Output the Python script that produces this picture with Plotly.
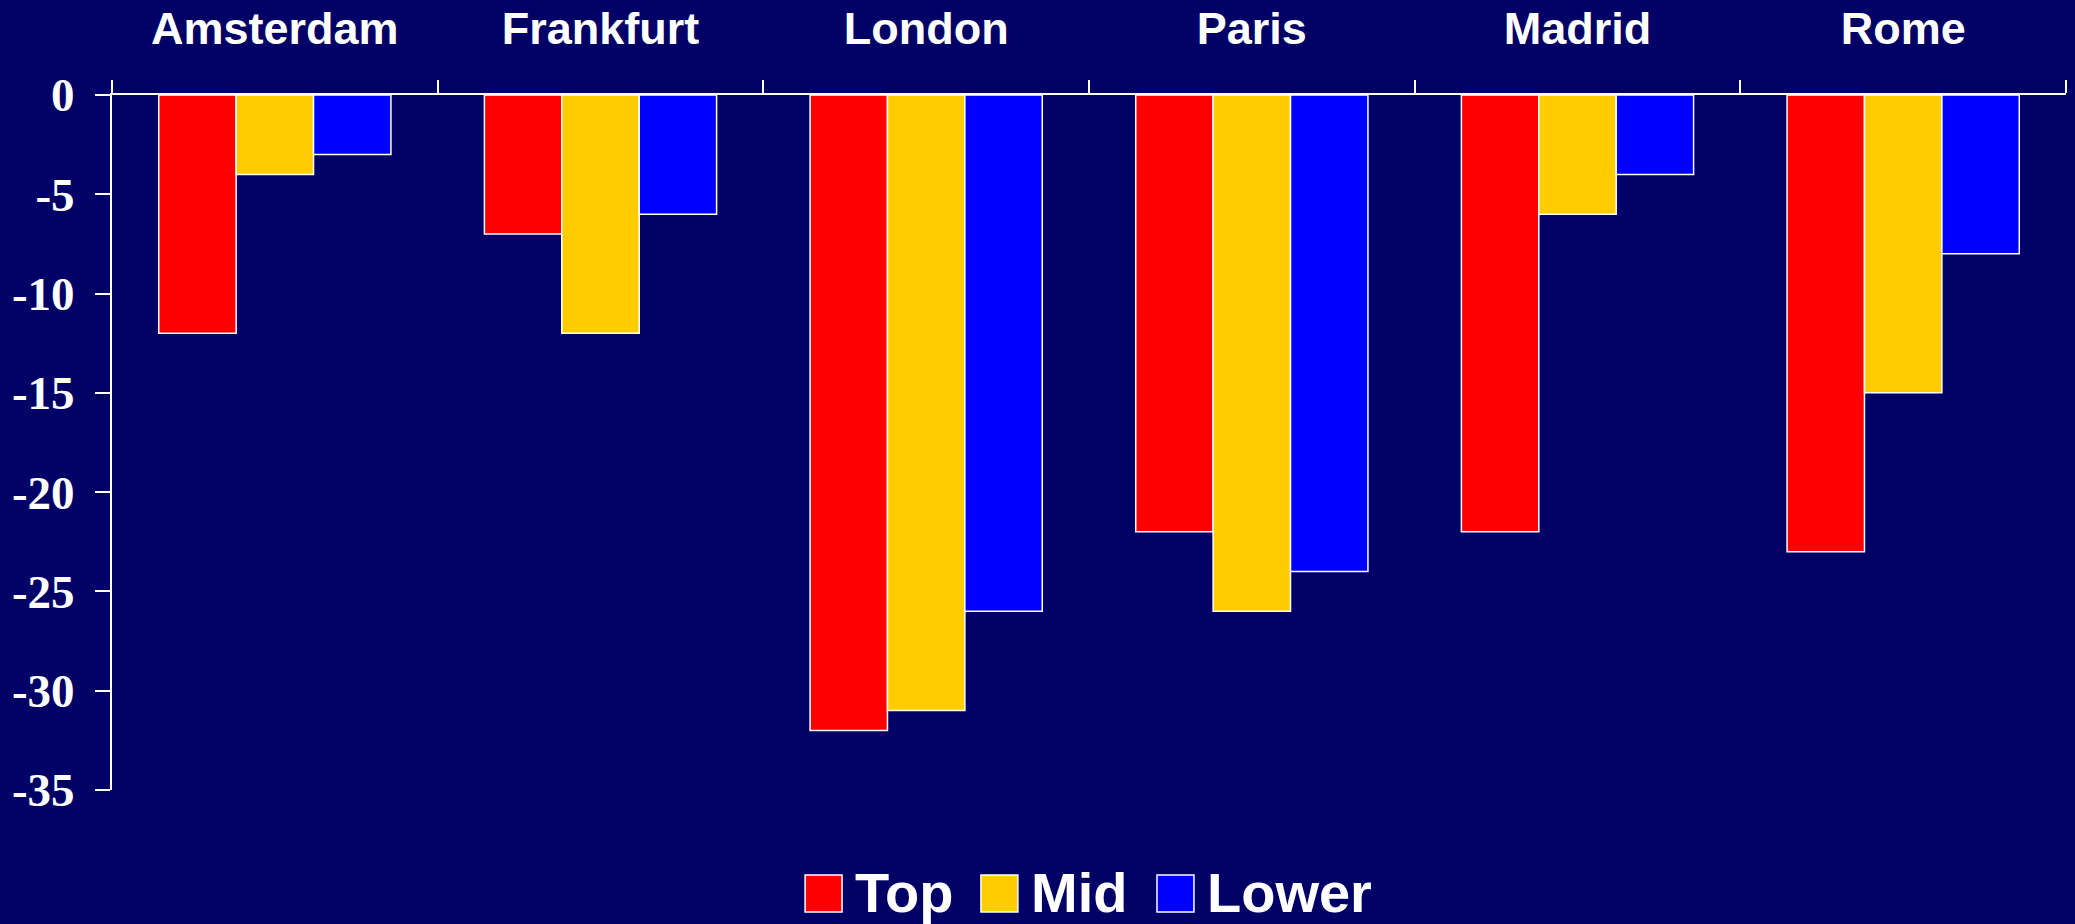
import plotly.graph_objects as go

# Chart data
cities = ["Amsterdam", "Frankfurt", "London", "Paris", "Madrid", "Rome"]
series_names = ["Top", "Mid", "Lower"]
top_values = [-12, -7, -32, -22, -22, -23]
mid_values = [-4, -12, -31, -26, -6, -15]
lower_values = [-3, -6, -26, -24, -4, -8]
y_tick_values = [0, -5, -10, -15, -20, -25, -30, -35]
y_tick_text = ["0", "-5", "-10", "-15", "-20", "-25", "-30", "-35"]

colors = ["#FF0000", "#FFCC00", "#0000FF"]
navy = "#000066"

fig = go.Figure()
for name, vals, col in zip(series_names, [top_values, mid_values, lower_values], colors):
    fig.add_trace(go.Bar(
        x=cities, y=vals, name=name,
        marker=dict(color=col, line=dict(color="white", width=1.5)),
        showlegend=False,
    ))

# Custom legend along the bottom: swatch + label
swatch_left = [0.3547, 0.4447, 0.5348]
swatch_w = 0.0189
for name, col, lx in zip(series_names, colors, swatch_left):
    fig.add_shape(type="rect", xref="paper", yref="paper",
                  x0=lx, x1=lx + swatch_w, y0=-0.1223, y1=-0.1755,
                  fillcolor=col, line=dict(color="white", width=1.5))
    fig.add_annotation(xref="paper", yref="paper", x=lx + 0.0245, y=-0.148,
                       text=name, showarrow=False, xanchor="left", yanchor="middle",
                       font=dict(family="Liberation Sans", size=56, color="white", weight="bold"))

fig.update_layout(
    width=2075, height=924,
    margin=dict(l=112, r=9, t=95, b=134),
    paper_bgcolor=navy, plot_bgcolor=navy,
    barmode="group", bargap=0.287, bargroupgap=0,
    xaxis=dict(
        side="top", showline=True, linecolor="white", linewidth=2,
        ticks="outside", ticklen=13, tickwidth=2, tickcolor="white",
        tickson="boundaries", showgrid=False, zeroline=False, automargin=False,
        tickfont=dict(family="Liberation Sans", size=45, color="white", weight="bold"),
        ticklabelstandoff=31,
    ),
    yaxis=dict(
        range=[-35, 0], tickvals=y_tick_values, ticktext=y_tick_text,
        showline=True, linecolor="white", linewidth=2,
        ticks="outside", ticklen=15, tickwidth=2, tickcolor="white",
        showgrid=False, zeroline=False, automargin=False,
        tickfont=dict(family="Liberation Serif", size=47, color="white", weight="bold"),
        ticklabelstandoff=11,
    ),
)

fig.write_html("out.html")
